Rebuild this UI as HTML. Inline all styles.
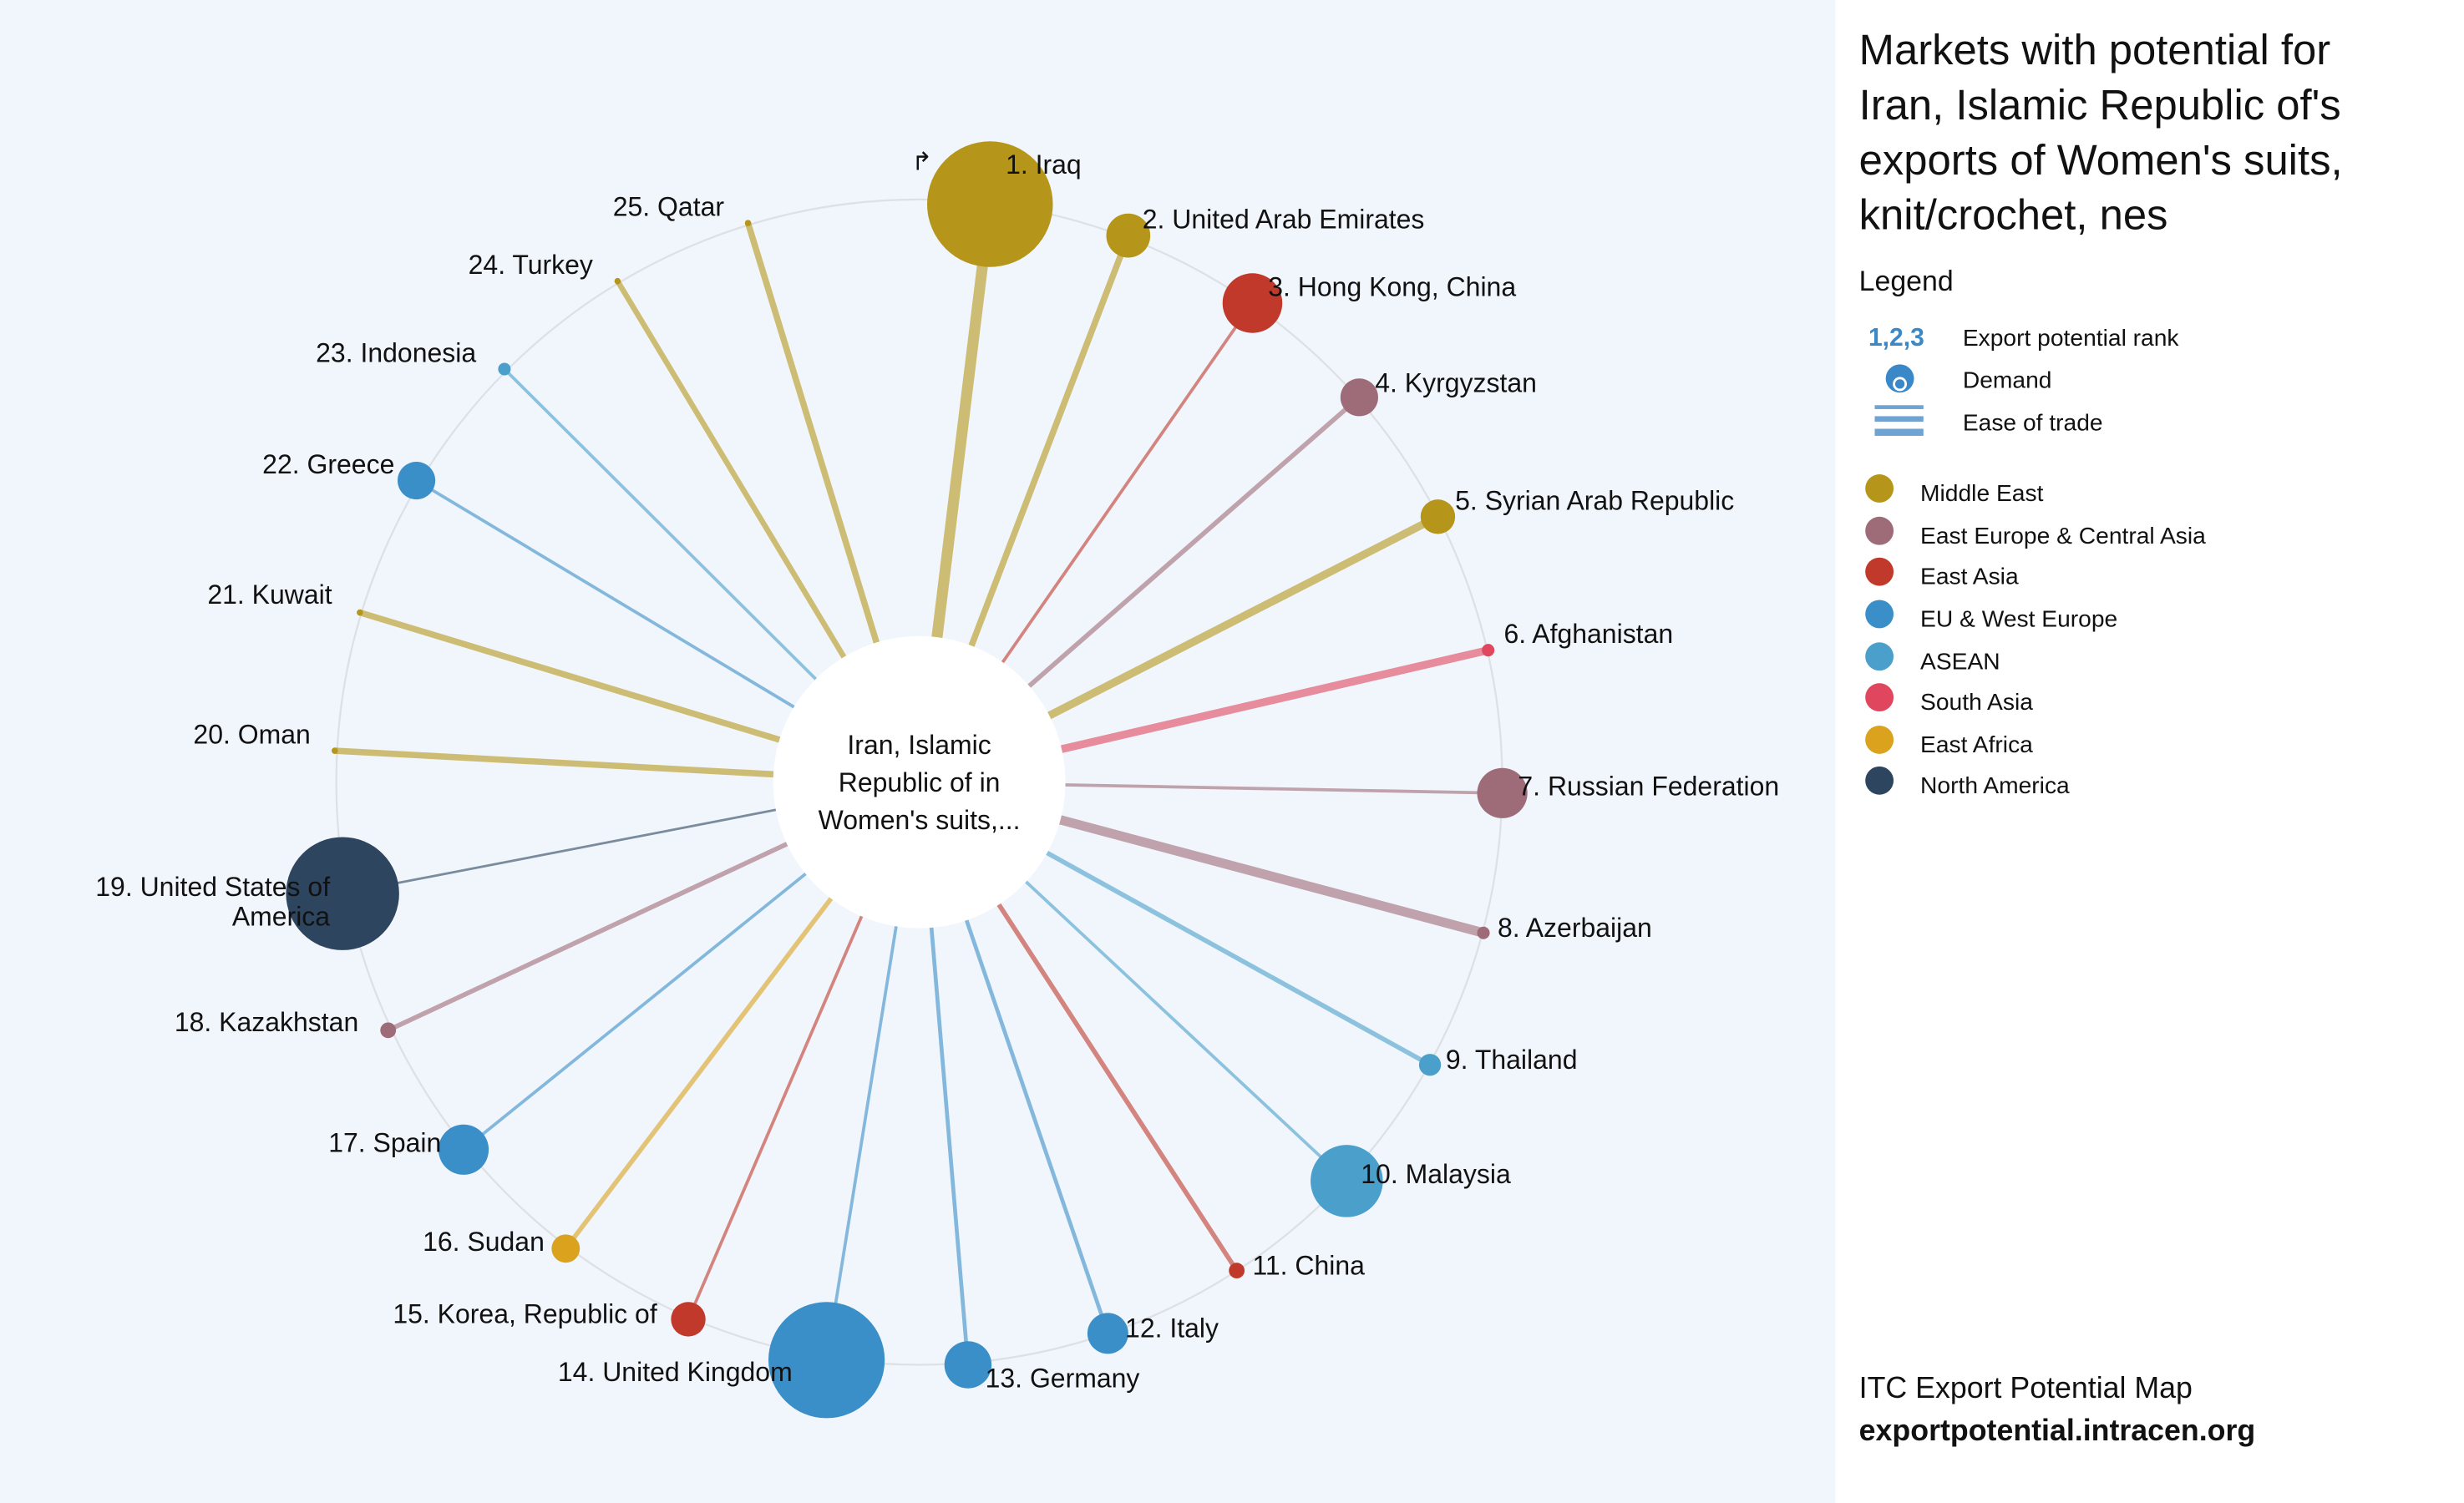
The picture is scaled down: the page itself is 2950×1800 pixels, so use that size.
<!DOCTYPE html>
<html><head><meta charset="utf-8"><style>
html,body{margin:0;padding:0;width:2950px;height:1800px;overflow:hidden;background:#fff}
svg{display:block}
text{font-family:"Liberation Sans",sans-serif;fill:#111}
</style></head><body>
<svg width="2950" height="1800" viewBox="0 0 1568 957" preserveAspectRatio="none">
<rect x="0" y="0" width="1568" height="957" fill="#fff"/>
<rect x="0" y="0" width="1168" height="957" fill="#f1f6fc"/>
<circle cx="585" cy="498" r="371" fill="none" stroke="#dde0e4" stroke-width="1.2"/>
<g stroke-linecap="butt" opacity="0.6">
<line x1="585" y1="498" x2="630" y2="130" stroke="#b5961a" stroke-width="7"/>
<line x1="585" y1="498" x2="718" y2="150" stroke="#b5961a" stroke-width="4"/>
<line x1="585" y1="498" x2="797" y2="193" stroke="#c0392b" stroke-width="2"/>
<line x1="585" y1="498" x2="865" y2="253" stroke="#9e6b78" stroke-width="3"/>
<line x1="585" y1="498" x2="915" y2="329" stroke="#b5961a" stroke-width="5"/>
<line x1="585" y1="498" x2="947" y2="414" stroke="#e0475e" stroke-width="5"/>
<line x1="585" y1="498" x2="956" y2="505" stroke="#9e6b78" stroke-width="2"/>
<line x1="585" y1="498" x2="944" y2="594" stroke="#9e6b78" stroke-width="6"/>
<line x1="585" y1="498" x2="910" y2="678" stroke="#4aa0cb" stroke-width="3"/>
<line x1="585" y1="498" x2="857" y2="752" stroke="#4aa0cb" stroke-width="2"/>
<line x1="585" y1="498" x2="787" y2="809" stroke="#c0392b" stroke-width="3"/>
<line x1="585" y1="498" x2="705" y2="849" stroke="#3b8fc8" stroke-width="2.5"/>
<line x1="585" y1="498" x2="616" y2="869" stroke="#3b8fc8" stroke-width="2.5"/>
<line x1="585" y1="498" x2="526" y2="866" stroke="#3b8fc8" stroke-width="2"/>
<line x1="585" y1="498" x2="438" y2="840" stroke="#c0392b" stroke-width="2"/>
<line x1="585" y1="498" x2="360" y2="795" stroke="#dba21e" stroke-width="3"/>
<line x1="585" y1="498" x2="295" y2="732" stroke="#3b8fc8" stroke-width="2"/>
<line x1="585" y1="498" x2="247" y2="656" stroke="#9e6b78" stroke-width="3"/>
<line x1="585" y1="498" x2="218" y2="569" stroke="#2e4560" stroke-width="1.5"/>
<line x1="585" y1="498" x2="213" y2="478" stroke="#b5961a" stroke-width="4"/>
<line x1="585" y1="498" x2="229" y2="390" stroke="#b5961a" stroke-width="4"/>
<line x1="585" y1="498" x2="265" y2="306" stroke="#3b8fc8" stroke-width="2"/>
<line x1="585" y1="498" x2="321" y2="235" stroke="#4aa0cb" stroke-width="2"/>
<line x1="585" y1="498" x2="393" y2="179" stroke="#b5961a" stroke-width="3.5"/>
<line x1="585" y1="498" x2="476" y2="142" stroke="#b5961a" stroke-width="4"/>
</g>
<circle cx="585" cy="498" r="93" fill="#fff"/>
<text x="585" y="480" font-size="17" text-anchor="middle">Iran, Islamic</text>
<text x="585" y="504" font-size="17" text-anchor="middle">Republic of in</text>
<text x="585" y="528" font-size="17" text-anchor="middle">Women's suits,...</text>
<g>
<circle cx="630" cy="130" r="40" fill="#b5961a"/>
<circle cx="718" cy="150" r="14" fill="#b5961a"/>
<circle cx="797" cy="193" r="19" fill="#c0392b"/>
<circle cx="865" cy="253" r="12" fill="#9e6b78"/>
<circle cx="915" cy="329" r="11" fill="#b5961a"/>
<circle cx="947" cy="414" r="4" fill="#e0475e"/>
<circle cx="956" cy="505" r="16" fill="#9e6b78"/>
<circle cx="944" cy="594" r="4" fill="#9e6b78"/>
<circle cx="910" cy="678" r="7" fill="#4aa0cb"/>
<circle cx="857" cy="752" r="23" fill="#4aa0cb"/>
<circle cx="787" cy="809" r="5" fill="#c0392b"/>
<circle cx="705" cy="849" r="13" fill="#3b8fc8"/>
<circle cx="616" cy="869" r="15" fill="#3b8fc8"/>
<circle cx="526" cy="866" r="37" fill="#3b8fc8"/>
<circle cx="438" cy="840" r="11" fill="#c0392b"/>
<circle cx="360" cy="795" r="9" fill="#dba21e"/>
<circle cx="295" cy="732" r="16" fill="#3b8fc8"/>
<circle cx="247" cy="656" r="5" fill="#9e6b78"/>
<circle cx="218" cy="569" r="36" fill="#2e4560"/>
<circle cx="213" cy="478" r="2" fill="#b5961a"/>
<circle cx="229" cy="390" r="2" fill="#b5961a"/>
<circle cx="265" cy="306" r="12" fill="#3b8fc8"/>
<circle cx="321" cy="235" r="4" fill="#4aa0cb"/>
<circle cx="393" cy="179" r="2" fill="#b5961a"/>
<circle cx="476" cy="142" r="2" fill="#b5961a"/>
</g>
<g font-size="17" dominant-baseline="middle">
<text x="580" y="104" font-size="16">↱</text>
<text x="640" y="106">1. Iraq</text>
<text x="727" y="141">2. United Arab Emirates</text>
<text x="807" y="184">3. Hong Kong, China</text>
<text x="875" y="245">4. Kyrgyzstan</text>
<text x="926" y="320">5. Syrian Arab Republic</text>
<text x="957" y="405">6. Afghanistan</text>
<text x="966" y="502">7. Russian Federation</text>
<text x="953" y="592">8. Azerbaijan</text>
<text x="920" y="676">9. Thailand</text>
<text x="866" y="749">10. Malaysia</text>
<text x="797" y="807">11. China</text>
<text x="716" y="847">12. Italy</text>
<text x="627" y="879">13. Germany</text>
<text x="355" y="875">14. United Kingdom</text>
<text x="250" y="838">15. Korea, Republic of</text>
<text x="269" y="792">16. Sudan</text>
<text x="209" y="729">17. Spain</text>
<text x="111" y="652">18. Kazakhstan</text>
<text x="210" y="566" text-anchor="end">19. United States of</text>
<text x="210" y="585" text-anchor="end">America</text>
<text x="123" y="469">20. Oman</text>
<text x="132" y="380">21. Kuwait</text>
<text x="167" y="297">22. Greece</text>
<text x="201" y="226">23. Indonesia</text>
<text x="298" y="170">24. Turkey</text>
<text x="390" y="133">25. Qatar</text>
</g>
<g font-size="27">
<text x="1183" y="41">Markets with potential for</text>
<text x="1183" y="76">Iran, Islamic Republic of's</text>
<text x="1183" y="111">exports of Women's suits,</text>
<text x="1183" y="146">knit/crochet, nes</text>
</g>
<text x="1183" y="185" font-size="18">Legend</text>
<text x="1189" y="220" font-size="16" font-weight="bold" style="fill:#3b88c8">1,2,3</text>
<circle cx="1209" cy="241" r="9" fill="#3b88c8"/>
<circle cx="1209" cy="244.5" r="4.5" fill="#fff"/>
<circle cx="1209" cy="244.5" r="3" fill="#3b88c8"/>
<rect x="1193" y="258" width="31" height="2.5" fill="#6fa3d4"/>
<rect x="1193" y="265" width="31" height="3.5" fill="#6fa3d4"/>
<rect x="1193" y="273" width="31" height="4.5" fill="#6fa3d4"/>
<g font-size="15">
<text x="1249" y="220">Export potential rank</text>
<text x="1249" y="247">Demand</text>
<text x="1249" y="274">Ease of trade</text>
</g>
<g>
<circle cx="1196" cy="311" r="9" fill="#b5961a"/>
<circle cx="1196" cy="338" r="9" fill="#9e6b78"/>
<circle cx="1196" cy="364" r="9" fill="#c0392b"/>
<circle cx="1196" cy="391" r="9" fill="#3b8fc8"/>
<circle cx="1196" cy="418" r="9" fill="#4aa0cb"/>
<circle cx="1196" cy="444" r="9" fill="#e0475e"/>
<circle cx="1196" cy="471" r="9" fill="#dba21e"/>
<circle cx="1196" cy="497" r="9" fill="#2e4560"/>
</g>
<g font-size="15">
<text x="1222" y="319">Middle East</text>
<text x="1222" y="346">East Europe &amp; Central Asia</text>
<text x="1222" y="372">East Asia</text>
<text x="1222" y="399">EU &amp; West Europe</text>
<text x="1222" y="426">ASEAN</text>
<text x="1222" y="452">South Asia</text>
<text x="1222" y="479">East Africa</text>
<text x="1222" y="505">North America</text>
</g>
<text x="1183" y="890" font-size="19">ITC Export Potential Map</text>
<text x="1183" y="917" font-size="19" font-weight="bold">exportpotential.intracen.org</text>
</svg>
</body></html>
